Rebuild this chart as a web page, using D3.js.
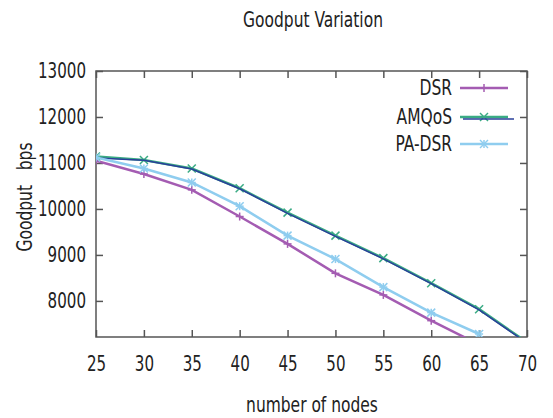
<!DOCTYPE html>
<html lang="en">
    <head>
        <meta charset="utf-8">
        <title>Goodput Variation</title>
        <script src="https://d3js.org/d3.v7.min.js"></script>
        <style type="text/css">
            body { margin: 0; background: white; }
            svg text {
                font-family: "DejaVu Sans Condensed", "DejaVu Sans", sans-serif;
                fill: #222;
                white-space: pre;
            }
        </style>
    </head>
    <body>
        <svg width="553" height="418"></svg>
        <script type="text/javascript">

            // data
            const nodes   = [25, 30, 35, 40, 45, 50, 55, 60, 65, 70];
            const dsr     = [11050, 10760, 10415, 9835, 9240, 8600, 8130, 7570, 7050];
            const amqos   = [11140, 11065, 10880, 10450, 9920, 9420, 8930, 8385, 7820, 7100];
            const amqos2  = [11110, 11060, 10870, 10440, 9905, 9405, 8915, 8375, 7805, 7085];
            const padsr   = [11120, 10880, 10575, 10060, 9420, 8910, 8300, 7745, 7280];
            const yTicks  = [8000, 9000, 10000, 11000, 12000, 13000];
            const xTicks  = [25, 30, 35, 40, 45, 50, 55, 60, 65, 70];

            const svg = d3.select("svg");
            const pLeft = 96, pRight = 527, pTop = 71, pBottom = 337;
            const digitW = 9.6, wordSqueeze = 0.82;   // reference font is narrow

            const x = d3.scaleLinear().domain([25, 70]).range([pLeft, pRight]);
            const y = d3.scaleLinear().domain([7215, 13000]).range([pBottom, pTop]);

            svg.append("clipPath").attr("id", "clip")
               .append("rect")
               .attr("x", pLeft).attr("y", pTop)
               .attr("width", pRight - pLeft).attr("height", pBottom - pTop);

            // frame
            svg.append("rect")
               .attr("x", pLeft).attr("y", pTop)
               .attr("width", pRight - pLeft).attr("height", pBottom - pTop)
               .style("fill", "none").style("stroke", "#555").style("stroke-width", 1.5);

            // axes (ticks inward, mirrored like gnuplot)
            const tickLen = 7;
            svg.append("g").attr("transform", `translate(0,${pBottom})`)
               .call(d3.axisBottom(x).tickValues(xTicks).tickSizeInner(-tickLen).tickSizeOuter(0).tickPadding(19))
               .call(g => g.select(".domain").remove());
            svg.append("g").attr("transform", `translate(0,${pTop})`)
               .call(d3.axisTop(x).tickValues(xTicks).tickSizeInner(-tickLen).tickSizeOuter(0).tickFormat(""))
               .call(g => g.select(".domain").remove());
            svg.append("g").attr("transform", `translate(${pLeft},0)`)
               .call(d3.axisLeft(y).tickValues(yTicks).tickFormat(d3.format("d"))
                     .tickSizeInner(-tickLen).tickSizeOuter(0).tickPadding(10))
               .call(g => g.select(".domain").remove());
            svg.append("g").attr("transform", `translate(${pRight},0)`)
               .call(d3.axisRight(y).tickValues(yTicks).tickSizeInner(-tickLen).tickSizeOuter(0).tickFormat(""))
               .call(g => g.select(".domain").remove());

            svg.selectAll(".tick line").style("stroke", "#555").style("stroke-width", 1.5);
            svg.selectAll(".tick text")
               .style("font-size", "21px").style("fill", "#222")
               .style("font-family", "'DejaVu Sans Condensed', 'DejaVu Sans', sans-serif")
               .attr("lengthAdjust", "spacingAndGlyphs")
               .attr("textLength", function() { return this.textContent.length * digitW; });

            // titles
            function label(tx, ty, rot, str) {
                svg.append("text")
                   .attr("transform", `translate(${tx},${ty}) rotate(${rot}) scale(${wordSqueeze},1)`)
                   .attr("text-anchor", "middle").style("font-size", "21px")
                   .text(str);
            }
            label(313, 27, 0, "Goodput Variation");
            label(312, 412, 0, "number of nodes");
            label(32, 197, -90, "Goodput   bps");

            const series = [
                {name: "DSR",    values: dsr,    color: "#a45cb2", mark: "plus"},
                {name: "AMQoS",  values: amqos,  color: "#3aab84", mark: "cross"},
                {name: null,     values: amqos2, color: "#2a3f9a", mark: null},
                {name: "PA-DSR", values: padsr,  color: "#8fcdef", mark: "star"}
            ];

            const line = d3.line().x((d, i) => x(nodes[i])).y(d => y(d));
            const plot = svg.append("g").attr("clip-path", "url(#clip)");

            function drawMark(g, type, px, py, color) {
                const s = 4;
                if (type === "plus" || type === "star") {
                    g.append("line").attr("x1", px - s).attr("x2", px + s).attr("y1", py).attr("y2", py);
                    g.append("line").attr("x1", px).attr("x2", px).attr("y1", py - s).attr("y2", py + s);
                }
                if (type === "cross" || type === "star") {
                    g.append("line").attr("x1", px - s).attr("x2", px + s).attr("y1", py - s).attr("y2", py + s);
                    g.append("line").attr("x1", px - s).attr("x2", px + s).attr("y1", py + s).attr("y2", py - s);
                }
                g.selectAll("line").style("stroke", color).style("stroke-width", 1.5);
            }

            series.forEach(s => {
                plot.append("path").datum(s.values).attr("d", line)
                    .style("fill", "none").style("stroke", s.color)
                    .style("stroke-width", s.mark ? 2.5 : 1.5);
                if (s.mark) {
                    s.values.forEach((v, i) => {
                        drawMark(plot.append("g"), s.mark, x(nodes[i]), y(v), s.color);
                    });
                }
            });

            // legend
            const legY = [88, 117, 144];
            const legendSeries = series.filter(s => s.name);
            legendSeries.forEach((s, i) => {
                const ly = legY[i];
                svg.append("text")
                   .attr("transform", `translate(452,${ly + 7}) scale(${wordSqueeze},1)`)
                   .attr("text-anchor", "end").style("font-size", "21px").text(s.name);
                svg.append("line").attr("x1", 460).attr("x2", 508).attr("y1", ly).attr("y2", ly)
                   .style("stroke", s.color).style("stroke-width", 2.5);
                drawMark(svg.append("g"), s.mark, 484, ly, s.color);
            });
            // dark line drawn with AMQoS in the key
            svg.append("line").attr("x1", 463).attr("x2", 514).attr("y1", 119).attr("y2", 119)
               .style("stroke", series[2].color).style("stroke-width", 1.5);

        </script>
    </body>
</html>
